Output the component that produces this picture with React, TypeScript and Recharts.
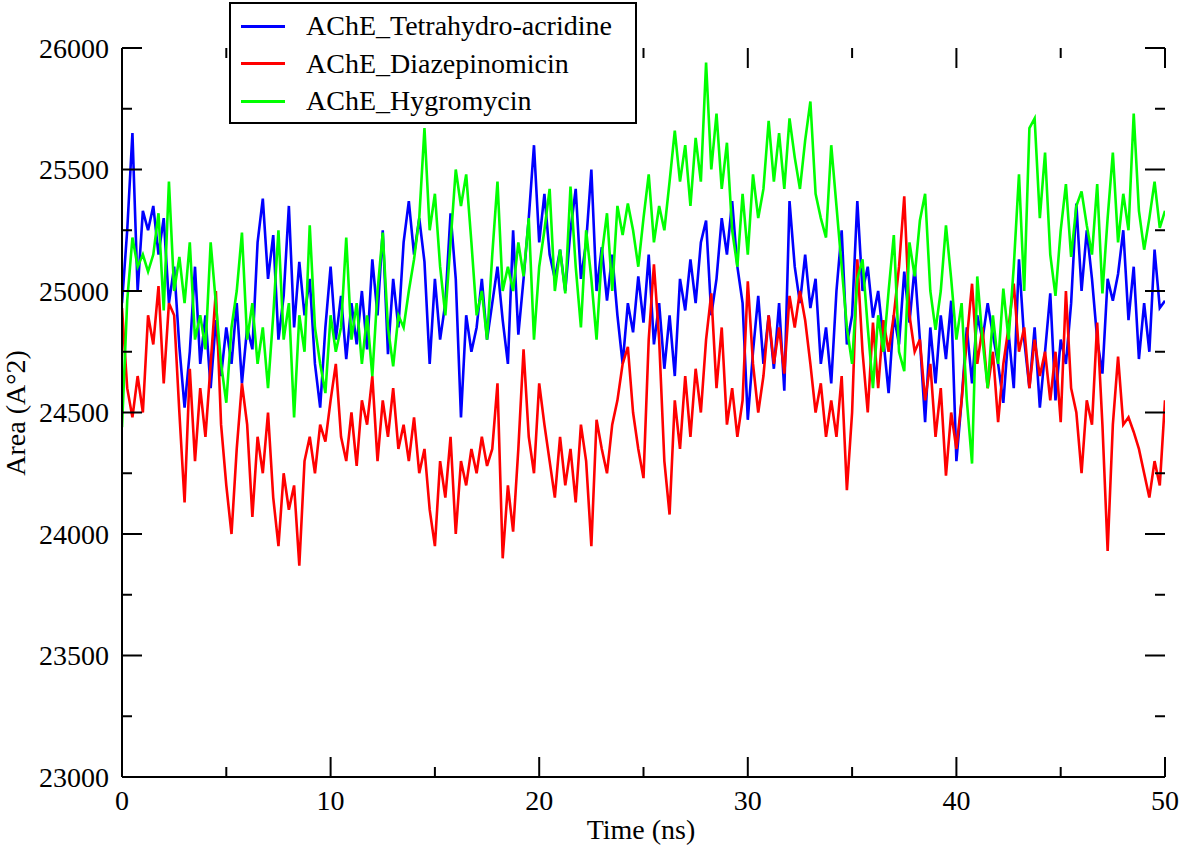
import { LineChart, Line, XAxis, YAxis } from "recharts";

// values every 0.25 ns (4 per row = one ns)
const TIME_STEP = 0.25;

const tetrahydroAcridine = [
  24950, 25250, 25650, 25000,
  25330, 25250, 25350, 25150,
  25300, 24950, 25100, 24770,
  24520, 24750, 25100, 24700,
  24900, 24600, 24880, 24650,
  24850, 24700, 24950, 24620,
  24850, 24760, 25200, 25380,
  25050, 25230, 24800, 24980,
  25350, 24850, 25120, 24900,
  25050, 24700, 24520, 24850,
  25100, 24800, 24980, 24720,
  24950, 24780, 25000, 24760,
  25130, 24900, 25250, 24740,
  25050, 24850, 25200, 25370,
  25150, 25300, 25120, 24700,
  25050, 24800, 24950, 25320,
  25050, 24480, 24900, 24750,
  24850, 25050, 24800, 24950,
  25100, 24880, 24700, 25250,
  24820, 25050, 25300, 25600,
  25200, 25400, 25150, 25050,
  25170, 25000, 25250, 25420,
  25050, 25200, 25500, 25000,
  25180, 24960, 25150, 24900,
  24700, 24950, 24830, 25060,
  24870, 25150, 24780, 24950,
  24680, 24900, 24650, 25050,
  24920, 25130, 24950, 25200,
  25290, 24900, 25050, 25300,
  25150, 25370, 25100, 24950,
  24470, 24750, 24980, 24700,
  24900, 24680, 24950, 24590,
  25370, 25100, 24950, 25150,
  24930, 25050, 24700, 24850,
  24620, 25000, 25250, 24780,
  24900, 25370, 25000, 25100,
  24890, 25000, 24800, 24580,
  24900, 24780, 25080, 24870,
  25100, 24800, 24460, 24850,
  24620, 24900, 24720, 24960,
  24300, 24550, 24850, 24620,
  24900, 24800, 24950, 24820,
  24700, 24540, 24830, 24600,
  25130, 24800, 24600, 24850,
  24520, 24750, 24990, 24550,
  24800, 24700, 24950, 25360,
  25000, 25250, 25050, 24800,
  24660, 25050, 24960, 25070,
  25250, 24880, 25100, 24720,
  24950, 24750, 25170, 24930,
  24960,
];

const diazepinomicin = [
  24930, 24600, 24480, 24650,
  24500, 24900, 24780, 25020,
  24620, 24950, 24900, 24500,
  24130, 24680, 24300, 24600,
  24400, 24700, 25000, 24450,
  24200, 24000, 24350, 24620,
  24450, 24070, 24400, 24250,
  24500, 24150, 23950, 24250,
  24100, 24200, 23870, 24300,
  24400, 24250, 24450, 24380,
  24550, 24700, 24400, 24300,
  24500, 24280, 24550, 24450,
  24650, 24300, 24550, 24400,
  24600, 24350, 24450, 24300,
  24480, 24250, 24350, 24100,
  23950, 24300, 24150, 24400,
  24000, 24300, 24200, 24350,
  24250, 24400, 24280, 24350,
  24620, 23900, 24200, 24010,
  24350, 24760, 24400, 24250,
  24620, 24450, 24300, 24150,
  24400, 24200, 24350, 24130,
  24450, 24300, 23950, 24470,
  24350, 24250, 24450, 24550,
  24700, 24770, 24500, 24350,
  24230, 24800, 25110, 24800,
  24300, 24080, 24550, 24350,
  24650, 24400, 24680, 24500,
  24800, 24990, 24600, 24850,
  24450, 24600, 24400, 24550,
  25040, 24700, 24500, 24650,
  24900, 24700, 24850, 24660,
  24980, 24850, 25000, 24880,
  24700, 24500, 24620, 24400,
  24550, 24400, 24650, 24180,
  24500, 25130, 24750, 24500,
  24870, 24600, 24880, 24750,
  24900, 25100, 25390, 24900,
  24750, 24800, 24550, 24700,
  24400, 24600, 24240, 24500,
  24350, 24550, 24800, 25030,
  24700, 24850, 24600, 24750,
  24460, 24700, 24850, 25030,
  24750, 24850, 24600, 24800,
  24650, 24750, 24550, 24750,
  24460, 25000, 24600, 24500,
  24250, 24550, 24450, 24870,
  24450, 23930, 24450, 24730,
  24450, 24480, 24420, 24350,
  24250, 24150, 24300, 24200,
  24550,
];

const hygromycin = [
  24440, 24960, 25220, 25100,
  25150, 25080, 25150, 25320,
  24920, 25450, 25000, 25140,
  24950, 25200, 24800, 24900,
  24760, 25200, 24950, 24700,
  24540, 24850, 25000, 25240,
  24800, 24950, 24700, 24850,
  24600, 24900, 25250, 24800,
  24950, 24480, 24900, 24750,
  25270, 24850, 24700, 24580,
  24900, 24750, 24850, 25220,
  24800, 24950, 24700, 24900,
  24650, 25000, 25240, 24850,
  24690, 24900, 24850, 25000,
  25130, 25300, 25670, 25250,
  25400, 25100, 24900, 25200,
  25500, 25350, 25480, 25200,
  24900, 25000, 24800, 25150,
  25450, 25000, 25100, 25000,
  25200, 25060, 25300, 24800,
  25100, 25250, 25420, 25000,
  25170, 24990, 25430, 25100,
  24850, 25250, 25050, 24800,
  25150, 25320, 25000, 25350,
  25230, 25360, 25250, 25100,
  25300, 25480, 25200, 25350,
  25250, 25450, 25660, 25450,
  25600, 25350, 25630, 25450,
  25940, 25500, 25730, 25420,
  25610, 25250, 25100, 25400,
  25150, 25480, 25300, 25420,
  25700, 25450, 25650, 25420,
  25710, 25550, 25420, 25620,
  25780, 25400, 25300, 25220,
  25600, 25350, 25100, 24850,
  24700, 25050, 25130, 24850,
  24600, 24900, 24750, 25000,
  25230, 24750, 24670, 25200,
  25060, 25290, 25400, 25000,
  24840, 25000, 25270, 25050,
  24800, 24950, 24550, 24290,
  25060, 24800, 24600, 24900,
  24700, 25010, 24800, 25100,
  25480, 25000, 25670, 25710,
  25300, 25570, 25150, 24980,
  25250, 25440, 25140, 25350,
  25410, 25270, 25150, 25440,
  24990, 25300, 25570, 25200,
  25400, 25250, 25730, 25330,
  25170, 25300, 25450, 25260,
  25330,
];

const seriesNames = [
  "AChE_Tetrahydro-acridine",
  "AChE_Diazepinomicin",
  "AChE_Hygromycin",
];
const seriesColors = ["#0000ff", "#ff0000", "#00ff00"];

const xTicks = [0, 5, 10, 15, 20, 25, 30, 35, 40, 45, 50];
const yTicks = [
  23000, 23250, 23500, 23750, 24000, 24250, 24500, 24750, 25000, 25250,
  25500, 25750, 26000,
];

const W = 1180;
const H = 846;
const PLOT_LEFT = 122;
const PLOT_RIGHT = 1165;
const PLOT_TOP = 48;
const PLOT_BOTTOM = 777;
const FONT = "'Liberation Serif', 'Times New Roman', serif";

const rows = tetrahydroAcridine.map((v, i) => ({
  time: i * TIME_STEP,
  a: v,
  b: diazepinomicin[i],
  c: hygromycin[i],
}));

const isMajorY = (v: number) => v % 500 === 0;
const isMajorX = (v: number) => v % 10 === 0;

// left axis tick: label + inward ticks on both left and right frame
function LeftTick(props: any) {
  const { y, payload } = props;
  const major = isMajorY(payload.value);
  const len = major ? 20 : 10;
  return (
    <g>
      <line x1={PLOT_LEFT} x2={PLOT_LEFT + len} y1={y} y2={y} stroke="#000" strokeWidth={2} />
      <line x1={PLOT_RIGHT} x2={PLOT_RIGHT - len} y1={y} y2={y} stroke="#000" strokeWidth={2} />
      {major && (
        <text x={PLOT_LEFT - 13} y={y} textAnchor="end" dominantBaseline="central" fontSize={28} fontFamily={FONT} fill="#000">
          {payload.value}
        </text>
      )}
    </g>
  );
}

// bottom axis tick: label + inward ticks on both bottom and top frame
function BottomTick(props: any) {
  const { x, payload } = props;
  const major = isMajorX(payload.value);
  const len = major ? 20 : 10;
  return (
    <g>
      <line x1={x} x2={x} y1={PLOT_BOTTOM} y2={PLOT_BOTTOM - len} stroke="#000" strokeWidth={2} />
      <line x1={x} x2={x} y1={PLOT_TOP} y2={PLOT_TOP + len} stroke="#000" strokeWidth={2} />
      {major && (
        <text x={x} y={PLOT_BOTTOM + 23} textAnchor="middle" dominantBaseline="central" fontSize={28} fontFamily={FONT} fill="#000">
          {payload.value}
        </text>
      )}
    </g>
  );
}

export default function App() {
  return (
    <div style={{ position: "fixed", left: 0, top: 0, width: W, height: H, background: "#fff" }}>
      <LineChart
        width={W}
        height={H}
        data={rows}
        margin={{ top: PLOT_TOP, right: W - PLOT_RIGHT, bottom: 0, left: 0 }}
      >
        <XAxis
          dataKey="time"
          type="number"
          domain={[0, 50]}
          ticks={xTicks}
          allowDataOverflow
          height={H - PLOT_BOTTOM}
          axisLine={{ stroke: "#000", strokeWidth: 2 }}
          tickLine={false}
          tick={<BottomTick />}
          interval={0}
        />
        <XAxis
          xAxisId="top"
          orientation="top"
          dataKey="time"
          type="number"
          domain={[0, 50]}
          ticks={xTicks}
          allowDataOverflow
          height={0}
          axisLine={{ stroke: "#000", strokeWidth: 2 }}
          tickLine={false}
          tick={false}
        />
        <YAxis
          type="number"
          domain={[23000, 26000]}
          ticks={yTicks}
          allowDataOverflow
          width={PLOT_LEFT}
          axisLine={{ stroke: "#000", strokeWidth: 2 }}
          tickLine={false}
          tick={<LeftTick />}
          interval={0}
        />
        <YAxis
          yAxisId="right"
          orientation="right"
          type="number"
          domain={[23000, 26000]}
          ticks={yTicks}
          allowDataOverflow
          width={0}
          axisLine={{ stroke: "#000", strokeWidth: 2 }}
          tickLine={false}
          tick={false}
        />
        <Line dataKey="a" name={seriesNames[0]} stroke={seriesColors[0]} strokeWidth={2.6} dot={false} type="linear" isAnimationActive={false} />
        <Line dataKey="b" name={seriesNames[1]} stroke={seriesColors[1]} strokeWidth={2.6} dot={false} type="linear" isAnimationActive={false} />
        <Line dataKey="c" name={seriesNames[2]} stroke={seriesColors[2]} strokeWidth={2.6} dot={false} type="linear" isAnimationActive={false} />
      </LineChart>

      {/* axis titles */}
      <div
        style={{
          position: "absolute",
          left: 16,
          top: 413,
          transform: "translate(-50%, -50%) rotate(-90deg)",
          whiteSpace: "nowrap",
          fontFamily: FONT,
          fontSize: 28,
          color: "#000",
        }}
      >
        Area (A°2)
      </div>
      <div
        style={{
          position: "absolute",
          left: 641,
          top: 830,
          transform: "translate(-50%, -50%)",
          whiteSpace: "nowrap",
          fontFamily: FONT,
          fontSize: 28,
          color: "#000",
        }}
      >
        Time (ns)
      </div>

      {/* legend box */}
      <div
        style={{
          position: "absolute",
          left: 229,
          top: 2,
          width: 408,
          height: 122,
          boxSizing: "border-box",
          border: "2px solid #000",
          background: "#fff",
        }}
      >
        {seriesNames.map((name, i) => (
          <div
            key={name}
            style={{
              position: "absolute",
              left: 0,
              top: 22 + i * 37.5 - 18,
              height: 36,
              display: "flex",
              alignItems: "center",
              whiteSpace: "nowrap",
            }}
          >
            <span style={{ display: "inline-block", marginLeft: 10, width: 44, height: 3, background: seriesColors[i] }} />
            <span style={{ marginLeft: 21, fontFamily: FONT, fontSize: 28, color: "#000" }}>{name}</span>
          </div>
        ))}
      </div>
    </div>
  );
}
